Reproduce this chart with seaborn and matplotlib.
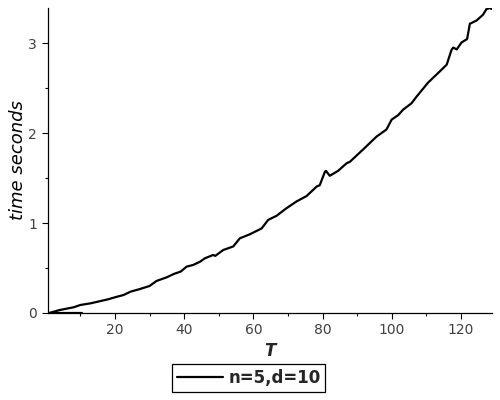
import numpy as np
import pandas as pd
import seaborn as sns
import matplotlib
matplotlib.use("Agg")
import matplotlib.pyplot as plt
from matplotlib.ticker import MultipleLocator

# timings
T = [1, 4, 8, 10, 13, 18, 20.5, 22.5, 24.5, 27, 30, 32, 35, 37, 39, 40.7, 42.6, 44.6,
     46, 48.4, 49, 51.3, 54.2, 56.1, 59, 62.4, 64.3, 66.7, 69.6, 72.5, 75.4, 78.3, 79.2,
     80.7, 81, 82.1, 84.5, 87, 87.9, 91.8, 95.6, 98.5, 100, 101.9, 103.3, 105.7, 107.2,
     110.5, 113.9, 115.9, 117.3, 117.8, 118.8, 120.2, 121.8, 122.6, 124.5, 126.4, 127.4,
     128.4, 128.8]
secs = [0.0, 0.033, 0.063, 0.089, 0.108, 0.152, 0.18, 0.20, 0.237, 0.264, 0.30, 0.356,
        0.397, 0.434, 0.46, 0.515, 0.534, 0.57, 0.608, 0.645, 0.635, 0.70, 0.74, 0.83,
        0.875, 0.94, 1.035, 1.08, 1.165, 1.24, 1.30, 1.405, 1.42, 1.57, 1.58, 1.525, 1.58,
        1.665, 1.68, 1.82, 1.96, 2.04, 2.15, 2.20, 2.26, 2.33, 2.405, 2.56, 2.685, 2.76,
        2.925, 2.95, 2.93, 3.007, 3.045, 3.215, 3.25, 3.315, 3.378, 3.39, 3.38]

# short flat piece near zero at the start
T0 = [1, 10.5]
secs0 = [0.0, 0.0]

df = pd.DataFrame({"T": T, "time": secs})
df0 = pd.DataFrame({"T": T0, "time": secs0})

sns.set_style("white")
fig = plt.figure(figsize=(5, 4), dpi=100)
ax = fig.add_axes([0.095, 0.2175, 0.889, 0.7625])

sns.lineplot(data=df, x="T", y="time", color="black", linewidth=1.6, ax=ax,
             label="n=5,d=10")
sns.lineplot(data=df0, x="T", y="time", color="black", linewidth=1.6, ax=ax)

ax.set_xlim(0.5, 129)
ax.set_ylim(0, 3.39)
ax.xaxis.set_major_locator(MultipleLocator(20))
ax.xaxis.set_minor_locator(MultipleLocator(10))
ax.yaxis.set_major_locator(MultipleLocator(1))
ax.yaxis.set_minor_locator(MultipleLocator(0.5))
ax.set_xticks([20, 40, 60, 80, 100, 120])
ax.tick_params(which="major", direction="out", length=4, width=0.8, colors="black",
               labelcolor="#404040", labelsize=10, bottom=True, left=True)
ax.tick_params(which="minor", direction="out", length=2.5, width=0.8, colors="black",
               bottom=True, left=True)

for s in ["top", "right"]:
    ax.spines[s].set_visible(False)
for s in ["left", "bottom"]:
    ax.spines[s].set_color("black")
    ax.spines[s].set_linewidth(0.9)

ax.set_xlabel("T", fontsize=12, fontstyle="italic", fontweight="bold", labelpad=3)
ax.set_ylabel("time seconds", fontsize=13, fontstyle="italic", labelpad=1,
              color="black")

ax.get_legend().remove()
h, l = ax.get_legend_handles_labels()
leg = fig.legend(h[:1], l[:1], loc="center", bbox_to_anchor=(0.497, 0.055),
                 fancybox=False, framealpha=1, edgecolor="black",
                 prop={"size": 12, "weight": "bold"}, handlelength=2.8,
                 handletextpad=0.3, borderpad=0.3)
leg.get_frame().set_linewidth(0.9)

fig.savefig("out.png", dpi=100)
